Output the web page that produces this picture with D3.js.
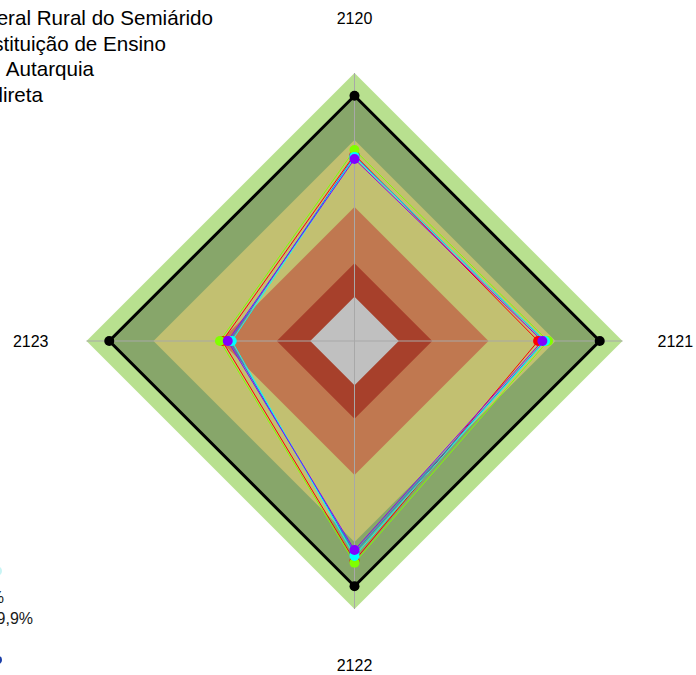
<!DOCTYPE html>
<html>
<head>
<meta charset="utf-8">
<script src="https://cdn.jsdelivr.net/npm/d3@7"></script>
<style>
  body { margin: 0; background: #fff; }
  svg { display: block; font-family: "Liberation Sans", Arial, sans-serif; }
</style>
</head>
<body>
<div id="chart"></div>
<script>
// axes (clockwise from top)
const axes = ["2120", "2121", "2122", "2123"];

// background bands: upper limit of each band, and colours
const bandLimits = [16.5, 29, 50, 75, 91.5, 100];
const bandColors = ["#c0c0c0", "#a7402b", "#c07850", "#c2c071", "#87a66a", "#b8e08f"];

// reference (black) line
const refValues = [91.5, 91.5, 91.5, 91.5];

// series
const seriesColors = ["#ff0000", "#0080ff", "#80ff00", "#00ffff", "#8000ff"];
const serieRed = [69.5, 68.5, 82.0, 49.3];
const serieBlue = [69.0, 70.9, 79.0, 46.6];
const serieGreen = [71.3, 72.2, 82.7, 50.2];
const serieCyan = [68.7, 71.1, 80.2, 45.8];
const seriePurple = [67.9, 70.1, 78.0, 47.3];
const series = [serieRed, serieBlue, serieGreen, serieCyan, seriePurple];

// title lines (cut off on the left in the original)
const titleLines = [
  "Universidade Federal Rural do Semiárido",
  "Instituição de Ensino",
  "Autarquia",
  "Administração Indireta"
];
const legendLines = ["< 99,9%", ">= 99,9%"];

const width = 696, height = 675;
const cx = 354.5, cy = 341;

const svg = d3.select("#chart").append("svg")
  .attr("width", width)
  .attr("height", height);

const r = d3.scaleLinear().domain([0, 100]).range([0, 268]);
const angle = d3.scalePoint().domain(axes).range([0, 2 * Math.PI * 3 / 4]);

function pt(axis, v) {
  const a = angle(axis) - Math.PI / 2;
  return [cx + r(v) * Math.cos(a), cy + r(v) * Math.sin(a)];
}
const poly = vals => axes.map((a, i) => pt(a, vals[i]));
const line = d3.line().curve(d3.curveLinearClosed);

// bands, largest first
const bands = bandLimits.map((v, i) => ({ v, c: bandColors[i] })).reverse();
svg.append("g").selectAll("path")
  .data(bands)
  .join("path")
  .attr("d", d => line(poly(axes.map(() => d.v))))
  .attr("fill", d => d.c);

// axis lines
svg.append("g").selectAll("line")
  .data(axes)
  .join("line")
  .attr("x1", d => pt(d, 100)[0])
  .attr("y1", d => pt(d, 100)[1])
  .attr("x2", cx)
  .attr("y2", cy)
  .attr("stroke", "#a8a8a8")
  .attr("stroke-width", 1);

// reference line
svg.append("path")
  .attr("d", line(poly(refValues)))
  .attr("fill", "none")
  .attr("stroke", "#000")
  .attr("stroke-width", 3);
svg.append("g").selectAll("circle")
  .data(axes)
  .join("circle")
  .attr("cx", (d, i) => pt(d, refValues[i])[0])
  .attr("cy", (d, i) => pt(d, refValues[i])[1])
  .attr("r", 5)
  .attr("fill", "#000");

// series lines and points
const sg = svg.append("g");
series.forEach((vals, k) => {
  sg.append("path")
    .attr("d", line(poly(vals)))
    .attr("fill", "none")
    .attr("stroke", seriesColors[k])
    .attr("stroke-width", 1);
});
series.forEach((vals, k) => {
  sg.append("g").selectAll("circle")
    .data(axes)
    .join("circle")
    .attr("cx", (d, i) => pt(d, vals[i])[0])
    .attr("cy", (d, i) => pt(d, vals[i])[1])
    .attr("r", 5)
    .attr("fill", seriesColors[k]);
});

// axis labels
const labelPos = {
  "2120": { dx: 0, dy: -323, anchor: "middle" },
  "2121": { dx: 303, dy: 0, anchor: "start" },
  "2122": { dx: 0, dy: 324, anchor: "middle" },
  "2123": { dx: -306, dy: 0, anchor: "end" }
};
svg.append("g").selectAll("text")
  .data(axes)
  .join("text")
  .attr("x", d => cx + labelPos[d].dx)
  .attr("y", d => cy + labelPos[d].dy)
  .attr("text-anchor", d => labelPos[d].anchor)
  .attr("dominant-baseline", "central")
  .attr("font-size", 16)
  .attr("fill", "#000")
  .text(d => d);

// title (clipped at the left edge)
const titleEnds = [213, 166, 94, 43];
svg.append("g").selectAll("text")
  .data(titleLines)
  .join("text")
  .attr("x", (d, i) => titleEnds[i])
  .attr("y", (d, i) => 25 + i * 25.5)
  .attr("text-anchor", "end")
  .attr("font-size", 20.6)
  .attr("fill", "#000")
  .text(d => d);

// bottom legend (clipped)
const legendEnds = [4, 33];
svg.append("g").selectAll("text")
  .data(legendLines)
  .join("text")
  .attr("x", (d, i) => legendEnds[i])
  .attr("y", (d, i) => 603 + i * 21)
  .attr("text-anchor", "end")
  .attr("font-size", 16)
  .attr("fill", "#1a1a1a")
  .text(d => d);
svg.append("circle").attr("cx", -2).attr("cy", 660).attr("r", 4).attr("fill", "#1a3ea8");
svg.append("circle").attr("cx", -3).attr("cy", 571).attr("r", 5).attr("fill", "#c8f4f4");
</script>
</body>
</html>
